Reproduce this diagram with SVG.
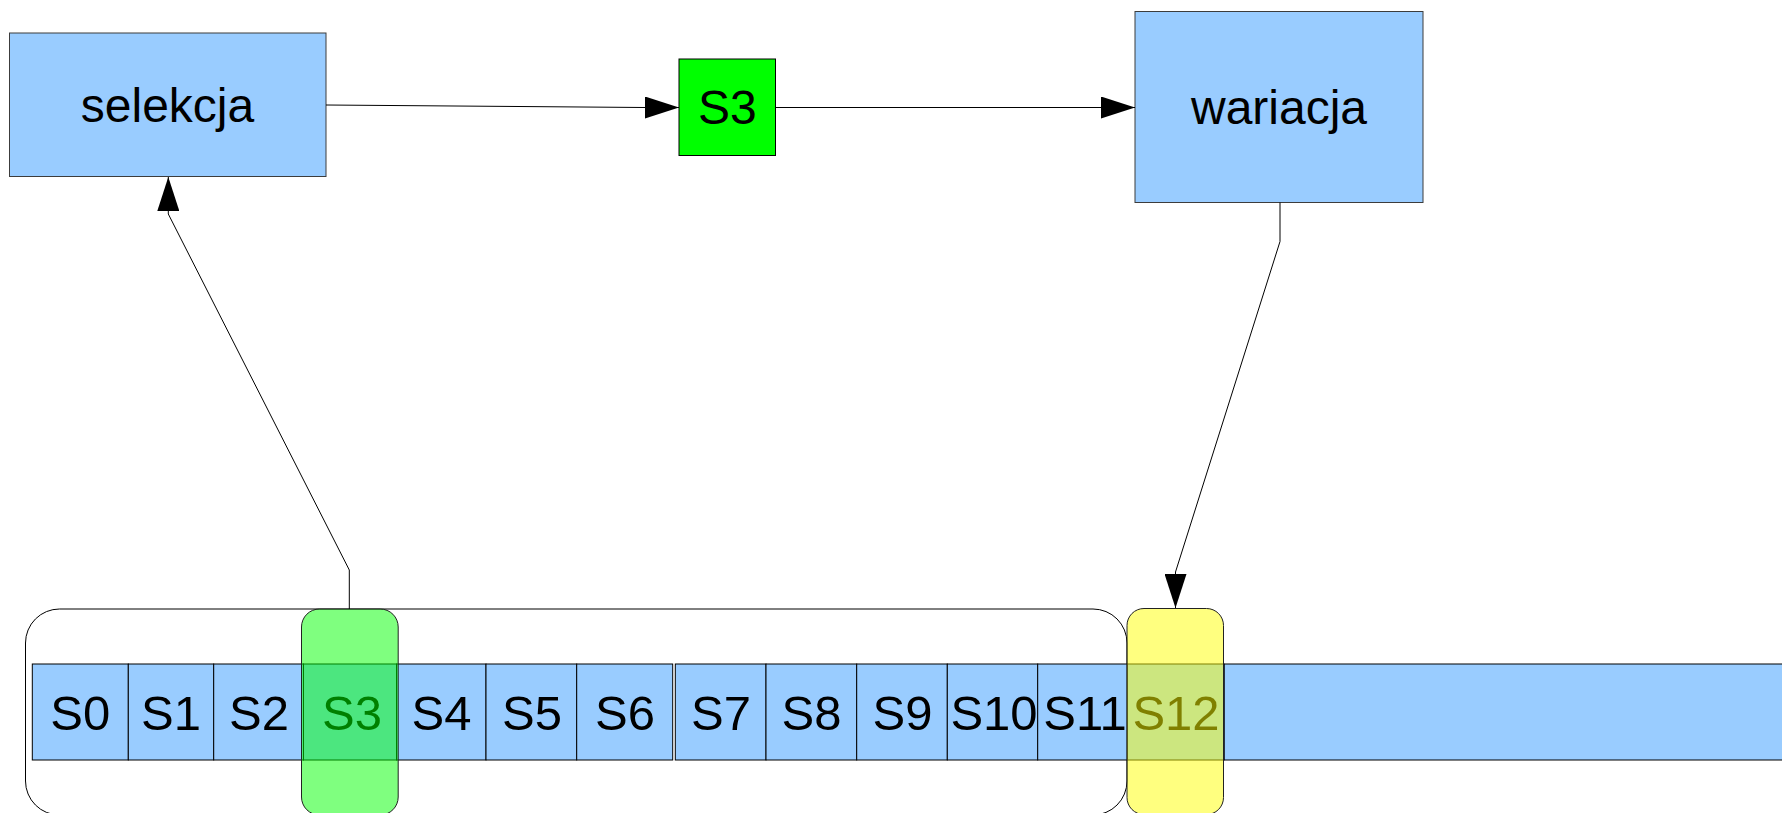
<svg xmlns="http://www.w3.org/2000/svg" width="1782" height="813" viewBox="0 0 1782 813">
<style>
.box{fill:#99ccff;stroke:#3c3c3c;stroke-width:1}
.cell{fill:#99ccff;stroke:#000;stroke-width:1}
.lbl{font-family:"Liberation Sans",Arial,sans-serif;font-size:48px;fill:#000;text-anchor:middle}
.sl{font-family:"Liberation Sans",Arial,sans-serif;font-size:49px;fill:#000;text-anchor:middle}
.conn{fill:none;stroke:#000;stroke-width:1}
.ov{stroke:#222;stroke-width:1;fill-opacity:0.5}
</style>
<defs>
<marker id="arr" viewBox="0 0 34 22" refX="34" refY="11" markerWidth="34" markerHeight="22" markerUnits="userSpaceOnUse" orient="auto">
<path d="M0,0 L34,11 L0,22 z" fill="#000"/>
</marker>
</defs>
<rect width="1782" height="813" fill="#fff"/>
<g id="population">
<rect x="25.5" y="609" width="1101.5" height="206" rx="34" ry="34" fill="#fff" stroke="#000" stroke-width="1"/>
<g id="strip">
<rect class="cell" x="1224" y="664" width="570" height="96"/>
<rect class="cell" x="32.3" y="664" width="96" height="96"/>
<rect class="cell" x="128.3" y="664" width="85.4" height="96"/>
<rect class="cell" x="213.7" y="664" width="89.8" height="96"/>
<rect class="cell" x="303.5" y="664" width="93" height="96"/>
<rect class="cell" x="396.5" y="664" width="89.5" height="96"/>
<rect class="cell" x="486" y="664" width="90.7" height="96"/>
<rect class="cell" x="576.7" y="664" width="96" height="96"/>
<rect class="cell" x="675.3" y="664" width="90.7" height="96"/>
<rect class="cell" x="766" y="664" width="90.7" height="96"/>
<rect class="cell" x="856.7" y="664" width="90.6" height="96"/>
<rect class="cell" x="947.3" y="664" width="90.4" height="96"/>
<rect class="cell" x="1037.7" y="664" width="89.6" height="96"/>
<rect class="cell" x="1127.3" y="664" width="96.7" height="96"/>
<text class="sl" x="80.3" y="729.5">S0</text>
<text class="sl" x="171" y="729.5">S1</text>
<text class="sl" x="259" y="729.5">S2</text>
<text class="sl" x="352" y="729.5">S3</text>
<text class="sl" x="441.5" y="729.5">S4</text>
<text class="sl" x="532" y="729.5">S5</text>
<text class="sl" x="625" y="729.5">S6</text>
<text class="sl" x="721" y="729.5">S7</text>
<text class="sl" x="811.5" y="729.5">S8</text>
<text class="sl" x="902.5" y="729.5">S9</text>
<text class="sl" x="994" y="729.5">S10</text>
<text class="sl" x="1085" y="729.5">S11</text>
<text class="sl" x="1176" y="729.5">S12</text>
</g>
</g>
<g id="selected-S3">
<rect class="ov" x="301.5" y="609" width="96.7" height="206" rx="18" ry="18" fill="#00ff00"/>
</g>
<g id="replaced-S12">
<rect class="ov" x="1127" y="608.5" width="96.5" height="206" rx="17" ry="17" fill="#ffff00"/>
</g>
<g id="selekcja">
<rect class="box" x="9.5" y="33" width="316.5" height="143.5"/>
<text class="lbl" x="167.5" y="122">selekcja</text>
</g>
<g id="S3-box">
<rect x="679" y="59" width="96.5" height="96.5" fill="#00ff00" stroke="#000" stroke-width="1"/>
<text class="lbl" x="727.3" y="123.5">S3</text>
</g>
<g id="wariacja">
<rect class="box" x="1135" y="11.5" width="288" height="191"/>
<text class="lbl" x="1279" y="123.5">wariacja</text>
</g>
<g id="connectors">
<path class="conn" d="M326,105 L645,107.5 L679,107.5" marker-end="url(#arr)"/>
<path class="conn" d="M775.5,107.5 L1135,107.5" marker-end="url(#arr)"/>
<path class="conn" d="M1280,202.5 L1280,241.5 L1175.5,572 L1175.5,608" marker-end="url(#arr)"/>
<path class="conn" d="M349.3,609 L349.3,570 L168.3,214 L168.3,177" marker-end="url(#arr)"/>
</g>
</svg>
